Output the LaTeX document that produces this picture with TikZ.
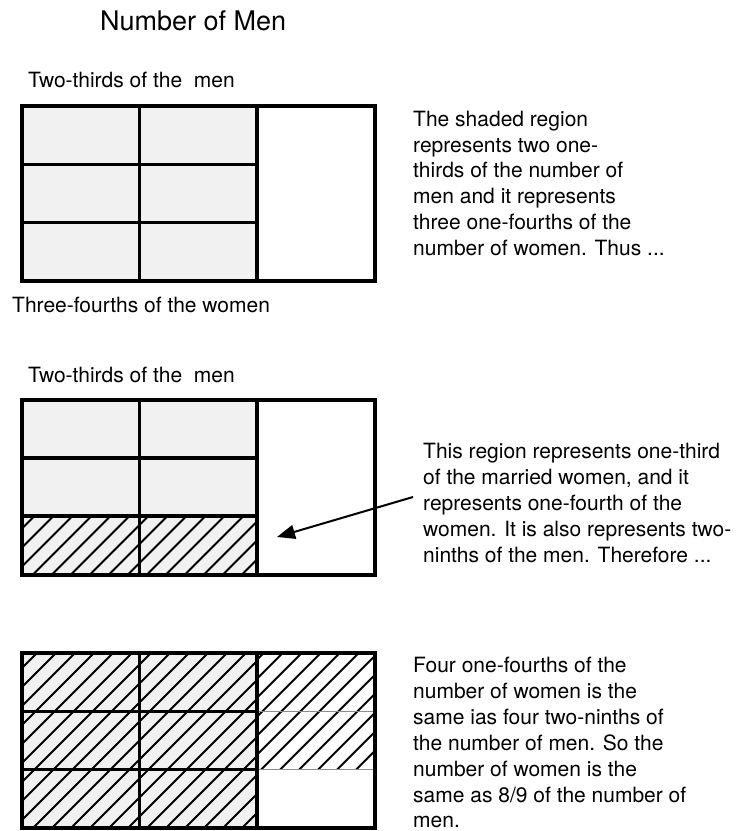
\documentclass[tikz,border=0pt]{standalone}
\usepackage{fontspec}
\setmainfont{TeX Gyre Heros}
\usetikzlibrary{arrows.meta}
\definecolor{cellgray}{HTML}{F1F1F1}
\tikzset{
  gridline/.style={line width=3.5pt, black},
  outerline/.style={line width=4pt, black, line join=miter},
  thinline/.style={line width=1.2pt, black!45},
  hatchline/.style={line width=2pt, black},
  lbl/.style={inner sep=0pt, anchor=base west, font=\fontsize{21}{26}\selectfont},
  para/.style={inner sep=0pt, anchor=north west, align=left, font=\fontsize{21}{25.9}\selectfont},
  titletext/.style={inner sep=0pt, anchor=base west, font=\fontsize{27}{32}\selectfont},
  pointer/.style={line width=2pt, -{Triangle[length=18pt,width=14pt]}},
}
\newcommand\hatchbox[4]{%
  \begin{scope}
    \clip (#1,#2) rectangle (#3,#4);
    \foreach \k in {-200,-181,...,400} \draw[hatchline] (\k,#4+5) -- ++(260,-260);
  \end{scope}}
\newcommand\gridframe[4]{% y0 y1 y2 y3
  \draw[gridline] (139.6,#1) -- (139.6,#4);
  \draw[gridline] (257.1,#1) -- (257.1,#4);
  \draw[gridline] (22,#2) -- (257.1,#2);
  \draw[gridline] (22,#3) -- (257.1,#3);
  \draw[outerline] (22,#1) rectangle (374.7,#4);}
\begin{document}
\begin{tikzpicture}[x=1pt,y=-1pt]
  \useasboundingbox (0,0) rectangle (736,831);

  % title
  \node[titletext] (title) at (100,30) {Number of Men};

  % ---- grid 1 ----
  \node[lbl] (men1) at (28,87) {Two-thirds of the\ \ men};
  \fill[cellgray] (22,106) rectangle (257.1,281);
  \gridframe{106}{164.3}{222.7}{281}
  \node[lbl] (women1) at (12,312) {Three-fourths of the women};
  \node[para] (text1) at (413,110.6) {The shaded region\\represents two one-\\thirds of the number of\\men and it represents\\three one-fourths of the\\number of women. Thus ...};

  % ---- grid 2 ----
  \node[lbl] (men2) at (28,382) {Two-thirds of the\ \ men};
  \fill[cellgray] (22,399.5) rectangle (257.1,574.5);
  \hatchbox{22}{516.2}{257.1}{574.5}
  \gridframe{399.5}{457.8}{516.2}{574.5}
  \node[para] (text2) at (423,443) {This region represents one-third\\of the married women, and it\\represents one-fourth of the\\women. It is also represents two-\\ninths of the men. Therefore ...};
  \coordinate (arrowstart) at (413,497);
  \coordinate (arrowtip) at (277,537);
  \draw[pointer] (arrowstart) -- (arrowtip);

  % ---- grid 3 ----
  \fill[cellgray] (22,653) rectangle (257.1,828);
  \hatchbox{22}{653}{257.1}{828}
  \hatchbox{257.1}{653}{374.7}{769.7}
  \draw[thinline] (257.1,711.3) -- (374.7,711.3);
  \draw[thinline] (257.1,769.7) -- (374.7,769.7);
  \gridframe{653}{711.3}{769.7}{828}
  \node[para] (text3) at (413,657) {Four one-fourths of the\\number of women is the\\same ias four two-ninths of\\the number of men. So the\\number of women is the\\same as 8/9 of the number of\\men.};
\end{tikzpicture}
\end{document}
